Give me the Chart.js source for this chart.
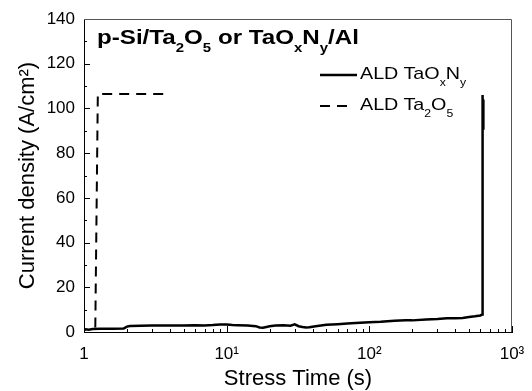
<!DOCTYPE html>
<html>
<head>
<meta charset="utf-8">
<script src="https://cdn.jsdelivr.net/npm/chart.js@4.4.1/dist/chart.umd.min.js"></script>
<style>
    html, body { margin: 0; padding: 0; background: #fff; }
    #wrap { position: relative; width: 532px; height: 391px; }
    #chart { display: block; }
    .txt { position: absolute; font-family: "Liberation Sans", Arial, sans-serif; color: #000; white-space: nowrap; transform-origin: 0 0; }
    .txt sub { font-size: 62%; vertical-align: -0.65em; line-height: 0; }
    #plotTitle { left: 97px; top: 25px; font-size: 21px; line-height: 24px; font-weight: bold; transform: scaleX(1.15); }
    .leg { left: 360px; font-size: 17px; line-height: 20px; transform: scaleX(1.16); }
    #leg1 { top: 64px; }
    #leg2 { top: 95px; }
</style>
</head>
<body>
<div id="wrap">
    <canvas id="chart" width="532" height="391"></canvas>
    <div id="plotTitle" class="txt">p-Si/Ta<sub>2</sub>O<sub>5</sub> or TaO<sub>x</sub>N<sub>y</sub>/Al</div>
    <div id="leg1" class="txt leg">ALD TaO<sub>x</sub>N<sub>y</sub></div>
    <div id="leg2" class="txt leg">ALD Ta<sub>2</sub>O<sub>5</sub></div>
</div>
<script>
// ALD TaOxNy (solid)
const timeTaOxNy = [1.0, 1.03, 1.08, 1.15, 1.3, 1.6, 1.9, 2.0, 2.1, 2.5, 3, 4, 5, 6, 7, 8, 9, 10, 11, 12, 14, 16, 17, 18, 20, 22, 25, 28, 30, 32, 34, 36, 38, 42, 50, 60, 70, 80, 100, 120, 150, 180, 200, 250, 300, 350, 400, 450, 500, 550, 600, 618, 619, 622, 625, 628, 630];
const currentTaOxNy = [0.8, 1.2, 1.0, 1.3, 1.4, 1.5, 1.6, 2.4, 2.7, 2.8, 2.9, 2.9, 2.9, 3.0, 2.9, 3.1, 3.4, 3.3, 3.1, 3.0, 2.9, 2.6, 2.0, 1.9, 2.6, 2.9, 3.0, 2.8, 3.4, 2.6, 2.2, 2.0, 2.1, 2.6, 3.2, 3.5, 3.8, 4.0, 4.4, 4.6, 5.0, 5.2, 5.2, 5.6, 5.8, 6.1, 6.2, 6.3, 6.7, 7.0, 7.4, 7.8, 106, 90, 105, 91, 104];

// ALD Ta2O5 (dashed)
const timeTa2O5 = [1.2, 1.25, 3.8];
const currentTa2O5 = [2, 106.5, 106.5];

// axis ticks
const xMajorTicks = [1, 10, 100, 1000];
const xTickLabels = ['1', '10\u00B9', '10\u00B2', '10\u00B3'];
const xMinorTicks = [2, 3, 4, 5, 6, 7, 8, 9, 20, 30, 40, 50, 60, 70, 80, 90, 200, 300, 400, 500, 600, 700, 800, 900];
const yMajorTicks = [0, 20, 40, 60, 80, 100, 120, 140];
const yMinorTicks = [10, 30, 50, 70, 90, 110, 130];

const fontFamily = "'Liberation Sans', Arial, sans-serif";

function toPoints(xs, ys) {
    return xs.map((x, i) => ({ x: x, y: ys[i] }));
}

// inward ticks, top/right frame and legend samples
const decorPlugin = {
    id: 'decor',
    afterDraw(chart) {
        const ctx = chart.ctx;
        const area = chart.chartArea;
        const xs = chart.scales.x;
        const ys = chart.scales.y;
        ctx.save();
        ctx.strokeStyle = '#000';
        ctx.lineWidth = 1;
        ctx.beginPath();
        xMajorTicks.forEach(v => {
            const px = Math.round(xs.getPixelForValue(v)) + 0.5;
            ctx.moveTo(px, area.bottom); ctx.lineTo(px, area.bottom - 6);
        });
        xMinorTicks.forEach(v => {
            const px = Math.round(xs.getPixelForValue(v)) + 0.5;
            ctx.moveTo(px, area.bottom); ctx.lineTo(px, area.bottom - 3);
        });
        yMajorTicks.forEach(v => {
            const py = Math.round(ys.getPixelForValue(v)) + 0.5;
            ctx.moveTo(area.left, py); ctx.lineTo(area.left + 6, py);
        });
        yMinorTicks.forEach(v => {
            const py = Math.round(ys.getPixelForValue(v)) + 0.5;
            ctx.moveTo(area.left, py); ctx.lineTo(area.left + 3, py);
        });
        ctx.stroke();

        // top and right frame
        ctx.strokeStyle = '#555';
        ctx.beginPath();
        ctx.moveTo(area.left, area.top + 0.5);
        ctx.lineTo(area.right - 0.5, area.top + 0.5);
        ctx.lineTo(area.right - 0.5, area.bottom);
        ctx.stroke();

        // legend samples
        const rows = [75, 106];
        const ends = [357, 350];
        chart.data.datasets.forEach((ds, i) => {
            ctx.strokeStyle = ds.borderColor;
            ctx.lineWidth = ds.borderWidth;
            ctx.setLineDash(ds.borderDash || []);
            ctx.beginPath();
            ctx.moveTo(320, rows[i]);
            ctx.lineTo(ends[i], rows[i]);
            ctx.stroke();
        });
        ctx.restore();
    }
};

const ctx = document.getElementById('chart').getContext('2d');
new Chart(ctx, {
    type: 'line',
    data: {
        datasets: [{
            label: 'ALD TaOxNy',
            data: toPoints(timeTaOxNy, currentTaOxNy),
            borderColor: '#000',
            borderWidth: 2.5,
            pointRadius: 0,
            tension: 0,
            fill: false
        }, {
            label: 'ALD Ta2O5',
            data: toPoints(timeTa2O5, currentTa2O5),
            borderColor: '#000',
            borderWidth: 2,
            borderDash: [10, 7],
            pointRadius: 0,
            tension: 0,
            fill: false
        }]
    },
    options: {
        responsive: false,
        animation: false,
        layout: { padding: { top: 19, right: 20, left: 0, bottom: 0 } },
        plugins: {
            legend: { display: false },
            title: { display: false },
            tooltip: { enabled: false }
        },
        scales: {
            x: {
                type: 'logarithmic',
                min: 1,
                max: 1000,
                grid: { display: false },
                border: { display: true, color: '#000', width: 1 },
                afterBuildTicks: scale => {
                    scale.ticks = xMajorTicks.map(v => ({ value: v }));
                },
                afterFit: scale => { scale.height = 59; },
                ticks: {
                    autoSkip: false,
                    maxRotation: 0,
                    padding: 4,
                    color: '#000',
                    font: { family: fontFamily, size: 17 },
                    callback: (value) => xTickLabels[xMajorTicks.indexOf(value)]
                },
                title: {
                    display: true,
                    text: 'Stress Time (s)',
                    color: '#000',
                    padding: { top: 0, bottom: 0 },
                    font: { family: fontFamily, size: 22, lineHeight: 1.1 }
                }
            },
            y: {
                min: 0,
                max: 140,
                grid: { display: false },
                border: { display: true, color: '#000', width: 1 },
                afterBuildTicks: scale => {
                    scale.ticks = yMajorTicks.map(v => ({ value: v }));
                },
                afterFit: scale => { scale.width = 84; },
                ticks: {
                    padding: 1,
                    color: '#000',
                    font: { family: fontFamily, size: 17 }
                },
                title: {
                    display: true,
                    text: 'Current density (A/cm\u00B2)',
                    color: '#000',
                    padding: { top: 16, bottom: 0 },
                    font: { family: fontFamily, size: 22, lineHeight: 1.1 }
                }
            }
        }
    },
    plugins: [decorPlugin]
});
</script>
</body>
</html>
